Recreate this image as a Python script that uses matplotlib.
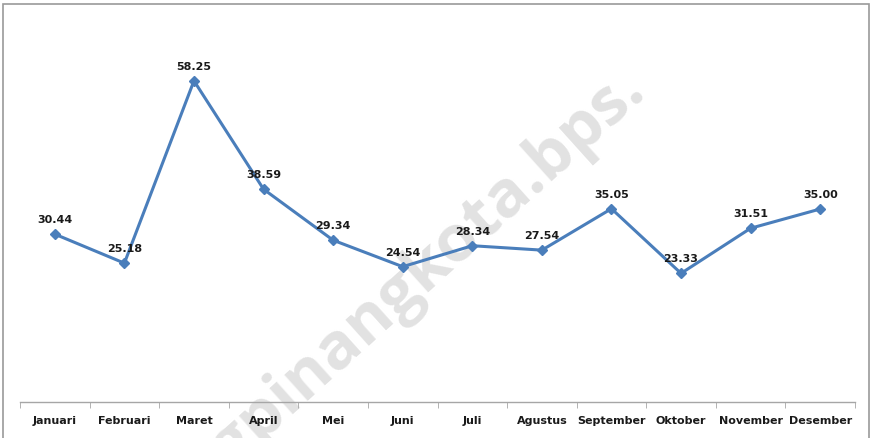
import matplotlib.pyplot as plt
import numpy as np
from matplotlib.patches import Rectangle

months = ["Januari", "Februari", "Maret", "April", "Mei", "Juni", "Juli",
          "Agustus", "September", "Oktober", "November", "Desember"]
values = [30.44, 25.18, 58.25, 38.59, 29.34, 24.54, 28.34, 27.54, 35.05,
          23.33, 31.51, 35.00]

LINE_COLOR = "#4a7ebb"
AXIS_COLOR = "#a6a6a6"
TEXT_COLOR = "#1a1a1a"

fig = plt.figure(figsize=(8.71, 4.38), dpi=100)
ax = fig.add_axes([20 / 871, 1 - 402 / 438, 835 / 871, 386 / 438])
ax.set_zorder(1)

# Watermark behind everything
fig.text(648 / 871, 1 - 94 / 438, "tanjungpinangkota.bps.",
         fontsize=47, fontweight="bold", color="#e2e2e2", family="Open Sans",
         rotation=42, ha="right", va="baseline", rotation_mode="anchor",
         zorder=0)

x = np.arange(len(months))
ax.plot(x, values, color=LINE_COLOR, linewidth=2.2, marker="D",
        markersize=5.5, zorder=3)

for xi, v in zip(x, values):
    ax.annotate(f"{v:.2f}", (xi, v), xytext=(0, 6.5), textcoords="offset points",
                ha="center", va="bottom", fontsize=8, fontweight="bold",
                color=TEXT_COLOR)

ax.set_xlim(-0.5, len(months) - 0.5)
ax.set_ylim(0, 70)
ax.patch.set_alpha(0)

for side in ["top", "right", "left"]:
    ax.spines[side].set_visible(False)
ax.spines["bottom"].set_color(AXIS_COLOR)
ax.spines["bottom"].set_linewidth(1)

ax.set_yticks([])
ax.set_xticks(x)
ax.set_xticklabels(months, fontsize=8, fontweight="bold", color=TEXT_COLOR)
ax.set_xticks(np.arange(-0.5, len(months)), minor=True)
ax.tick_params(axis="x", which="major", length=0, pad=10)
ax.tick_params(axis="x", which="minor", length=4, color=AXIS_COLOR,
               direction="out")

# Outer chart border
fig.patches.append(Rectangle((3 / 871, -0.02), 866 / 871, 1.02 - 4.5 / 438,
                             transform=fig.transFigure, fill=False,
                             edgecolor="#9a9a9a", linewidth=1.2, zorder=0))

fig.savefig("out.png", dpi=100)
